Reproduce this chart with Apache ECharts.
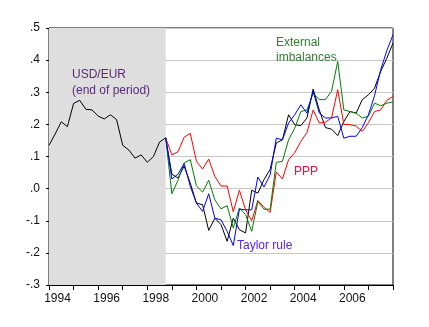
<!DOCTYPE html>
<html>
<head>
<meta charset="utf-8">
<script src="https://cdn.jsdelivr.net/npm/echarts@6/dist/echarts.min.js"></script>
<style>
html,body{margin:0;padding:0;background:#fff;}
#chart{width:429px;height:327px;}
</style>
</head>
<body>
<div id="chart"></div>
<script>
// Quarterly categories 1994Q1 .. 2008Q1
const firstYear = 1994, lastYear = 2008;
const quarters = [];
for (let y = firstYear; y <= lastYear; y++) {
  for (let q = 1; q <= 4; q++) {
    if (y === lastYear && q > 1) break;
    quarters.push(y + 'Q' + q);
  }
}
const yearLabels = ['1994','1996','1998','2000','2002','2004','2006'];
const yTicks = [-0.3,-0.2,-0.1,0,0.1,0.2,0.3,0.4,0.5];

// Actual USD/EUR (log, end of period), 1994Q1..2008Q1
const actual = [0.135,0.170,0.208,0.193,0.265,0.275,0.247,0.245,0.226,0.217,
  0.230,0.215,0.135,0.120,0.095,0.105,0.082,0.100,0.145,0.158,
  0.045,0.033,0.070,0.017,-0.045,-0.050,-0.130,-0.092,-0.112,-0.164,
  -0.092,-0.128,-0.138,-0.005,-0.014,0.028,0.060,0.142,0.152,0.230,
  0.199,0.196,0.220,0.310,0.245,0.190,0.185,0.165,0.209,0.240,
  0.235,0.277,0.292,0.313,0.365,0.406,0.453];

// Model predictions, starting 1998Q4
const forecastStart = '1998Q4';
const ppp = [0.158,0.105,0.115,0.160,0.172,0.085,0.061,0.092,0.038,0.008,
  0.008,-0.072,-0.005,-0.066,-0.100,-0.037,-0.058,-0.074,0.052,0.030,
  0.090,0.112,0.147,0.175,0.245,0.204,0.207,0.220,0.308,0.200,
  0.199,0.195,0.178,0.205,0.240,0.245,0.275,0.287];
const external = [0.158,-0.016,0.026,0.080,0.090,0.009,-0.011,0.026,-0.035,-0.063,
  -0.053,-0.123,-0.060,-0.081,-0.133,-0.040,-0.064,-0.064,0.082,0.085,
  0.152,0.188,0.240,0.245,0.297,0.277,0.277,0.303,0.396,0.245,
  0.240,0.235,0.220,0.225,0.266,0.258,0.266,0.270];
const taylor = [0.158,0.030,0.045,0.078,0.007,-0.045,-0.071,-0.016,-0.092,-0.097,
  -0.133,-0.177,-0.064,-0.066,-0.066,0.036,0.005,0.043,0.157,0.152,
  0.204,0.230,0.261,0.235,0.303,0.235,0.220,0.220,0.225,0.157,
  0.163,0.163,0.190,0.230,0.290,0.370,0.430,0.479];

function padForecast(arr) {
  const start = quarters.indexOf(forecastStart);
  const out = quarters.map(() => null);
  arr.forEach((v, k) => { out[start + k] = v; });
  return out;
}

const FONT = 'Liberation Sans, Arial, sans-serif';
const chart = echarts.init(document.getElementById('chart'), null, {renderer: 'canvas'});

chart.setOption({
  animation: false,
  backgroundColor: '#ffffff',
  grid: {left: 49, right: 36, top: 28, bottom: 42, show: true, borderColor: '#000', borderWidth: 1, backgroundColor: 'transparent'},
  xAxis: {
    type: 'category',
    data: quarters,
    boundaryGap: false,
    axisLine: {show: true, onZero: false, lineStyle: {color: '#000', width: 1}},
    axisTick: {show: true, length: 5, interval: function(i, v){ return v.endsWith('Q1'); }, lineStyle: {color: '#000'}},
    axisLabel: {
      interval: function(i, v){ return v.endsWith('Q1') && yearLabels.indexOf(v.slice(0,4)) >= 0; },
      formatter: function(v){ return v.slice(0,4); },
      color: '#111', fontFamily: FONT, fontSize: 12, margin: 8,
      align: 'center', padding: [0, 0, 0, 17]
    },
    splitLine: {show: false}
  },
  yAxis: {
    type: 'value',
    min: -0.3, max: 0.5, interval: 0.1,
    axisLine: {show: true, onZero: false, lineStyle: {color: '#000', width: 1}},
    axisTick: {show: true, length: 3, lineStyle: {color: '#000'}},
    axisLabel: {
      formatter: function(v){ return v.toFixed(1).replace('0.', '.'); },
      color: '#111', fontFamily: FONT, fontSize: 12, margin: 9
    },
    splitLine: {show: true, lineStyle: {color: '#c8c8c8', width: 1}}
  },
  series: [
    {
      name: 'USD/EUR', type: 'line', data: actual, symbol: 'none',
      lineStyle: {color: '#000', width: 1}, z: 2,
      markArea: {
        silent: true,
        itemStyle: {color: '#dedede'},
        data: [[{xAxis: quarters[0]}, {xAxis: forecastStart}]]
      }
    },
    {name: 'PPP', type: 'line', data: padForecast(ppp), symbol: 'none', lineStyle: {color: '#ff0000', width: 1}, z: 3},
    {name: 'External imbalances', type: 'line', data: padForecast(external), symbol: 'none', lineStyle: {color: '#008000', width: 1}, z: 4},
    {name: 'Taylor rule', type: 'line', data: padForecast(taylor), symbol: 'none', lineStyle: {color: '#0000ff', width: 1}, z: 5}
  ],
  graphic: [
    {type: 'text', left: 72, top: 69, z: 10, style: {text: 'USD/EUR', fill: '#5a2a78', font: '12px ' + FONT}},
    {type: 'text', left: 72, top: 85, z: 10, style: {text: '(end of period)', fill: '#5a2a78', font: '12px ' + FONT}},
    {type: 'text', left: 276, top: 37, z: 10, style: {text: 'External', fill: '#2f7f2f', font: '12px ' + FONT}},
    {type: 'text', left: 276, top: 52, z: 10, style: {text: 'imbalances', fill: '#2f7f2f', font: '12px ' + FONT}},
    {type: 'text', left: 294, top: 166, z: 10, style: {text: 'PPP', fill: '#f01040', font: '12px ' + FONT}},
    {type: 'text', left: 237, top: 240, z: 10, style: {text: 'Taylor rule', fill: '#5522ee', font: '12px ' + FONT}}
  ]
});
</script>
</body>
</html>
